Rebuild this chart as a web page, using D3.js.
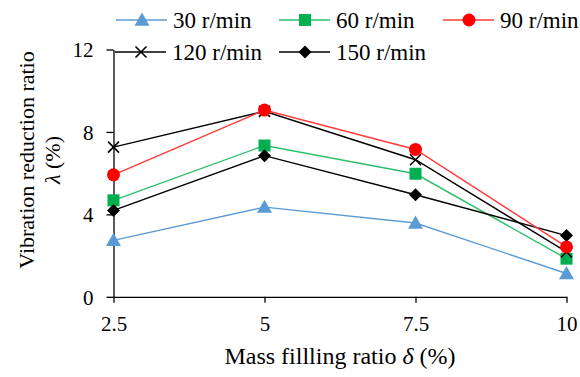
<!DOCTYPE html>
<html>
<head>
<meta charset="utf-8">
<script src="https://cdn.jsdelivr.net/npm/d3@7/dist/d3.min.js"></script>
<style>
  html, body { margin: 0; padding: 0; background: #fff; }
  svg { display: block; }
  svg text, svg tspan { font-family: 'Liberation Serif', 'Times New Roman', serif !important; fill: #000; }
</style>
</head>
<body>
<svg id="chart" width="580" height="377"></svg>
<script>
const xValues = [2.5, 5, 7.5, 10];
const xTickLabels = ["2.5", "5", "7.5", "10"];
const yTicks = [0, 4, 8, 12];
const seriesNames = ["30 r/min", "60 r/min", "90 r/min", "120 r/min", "150 r/min"];
const s30 = [2.74, 4.35, 3.58, 1.13];
const s60 = [4.68, 7.34, 5.97, 1.85];
const s90 = [5.92, 9.06, 7.15, 2.42];
const s120 = [7.26, 9.0, 6.65, 2.18];
const s150 = [4.19, 6.85, 4.95, 2.97];

const seriesValues = [s30, s60, s90, s120, s150];
const styles = [
  { line: "#5B9BD5", fill: "#5B9BD5", marker: "triangle" },
  { line: "#2DBE6C", fill: "#00B050", marker: "square" },
  { line: "#FF3B3B", fill: "#FF0000", marker: "circle" },
  { line: "#000000", fill: "#000000", marker: "cross" },
  { line: "#000000", fill: "#000000", marker: "diamond" }
];
const FONT = "'Liberation Serif', 'Times New Roman', serif";

const svg = d3.select("#chart");
const x = d3.scaleLinear().domain([2.5, 10]).range([113.5, 566.5]);
const y = d3.scaleLinear().domain([0, 12]).range([296.8, 49.5]);

const xAxis = d3.axisBottom(x).tickValues(xValues).tickFormat((d, i) => xTickLabels[i]).tickSize(6).tickSizeOuter(0).tickPadding(8);
const yAxis = d3.axisLeft(y).tickValues(yTicks).tickSize(7).tickSizeOuter(0).tickPadding(13);

const gx = svg.append("g").attr("transform", `translate(0,${y(0)})`).call(xAxis);
const gy = svg.append("g").attr("transform", `translate(${x(2.5)},0)`).call(yAxis);
[gx, gy].forEach(g => {
  g.attr("font-family", FONT).attr("font-size", 21);
  g.select(".domain").attr("stroke", "#000").attr("stroke-width", 1.3);
  g.selectAll(".tick line").attr("stroke", "#000").attr("stroke-width", 1.3);
  g.selectAll(".tick text").attr("font-family", FONT).attr("font-size", 21).attr("fill", "#000");
});
gx.selectAll(".tick text").attr("dy", "0.95em");
gy.selectAll(".tick text").attr("dy", "0.35em");

function drawMarker(g, type, cx, cy, st) {
  if (type === "triangle") {
    const s = 7.5;
    g.append("path").attr("d", `M${cx},${cy - s} L${cx + s},${cy + s * 0.75} L${cx - s},${cy + s * 0.75} Z`).attr("fill", st.fill);
  } else if (type === "square") {
    g.append("rect").attr("x", cx - 6).attr("y", cy - 6).attr("width", 12).attr("height", 12).attr("fill", st.fill);
  } else if (type === "circle") {
    g.append("circle").attr("cx", cx).attr("cy", cy).attr("r", 6.5).attr("fill", st.fill);
  } else if (type === "cross") {
    const s = 5.5;
    g.append("path").attr("d", `M${cx - s},${cy - s} L${cx + s},${cy + s} M${cx - s},${cy + s} L${cx + s},${cy - s}`).attr("stroke", st.fill).attr("stroke-width", 1.6).attr("fill", "none");
  } else if (type === "diamond") {
    const s = 6.5;
    g.append("path").attr("d", `M${cx},${cy - s} L${cx + s},${cy} L${cx},${cy + s} L${cx - s},${cy} Z`).attr("fill", st.fill);
  }
}

const line = d3.line().x((d, i) => x(xValues[i])).y(d => y(d));
const order = [0, 1, 4, 3, 2];
order.forEach(k => {
  svg.append("path").datum(seriesValues[k]).attr("d", line).attr("fill", "none").attr("stroke", styles[k].line).attr("stroke-width", 1.4);
});
order.forEach(k => {
  const g = svg.append("g");
  seriesValues[k].forEach((v, i) => drawMarker(g, styles[k].marker, x(xValues[i]), y(v), styles[k]));
});

const legendPos = [
  { x: 116, y: 20 }, { x: 279, y: 20 }, { x: 443, y: 20 },
  { x: 115, y: 52 }, { x: 279, y: 52 }
];
seriesNames.forEach((name, k) => {
  const p = legendPos[k];
  const g = svg.append("g");
  g.append("line").attr("x1", p.x).attr("x2", p.x + 51).attr("y1", p.y).attr("y2", p.y).attr("stroke", styles[k].line).attr("stroke-width", 1.4);
  drawMarker(g, styles[k].marker, p.x + 26, p.y, styles[k]);
  g.append("text").attr("x", p.x + 57).attr("y", p.y).attr("dy", "0.33em").attr("font-family", FONT).attr("font-size", 23).text(name);
});

const xt = svg.append("text").attr("x", 340).attr("y", 364).attr("text-anchor", "middle").attr("font-family", FONT).attr("font-size", 24);
xt.append("tspan").text("Mass fillling ratio ");
xt.append("tspan").attr("font-style", "italic").text("δ");
xt.append("tspan").text(" (%)");

const yt = svg.append("text").attr("transform", "translate(26,160) rotate(-90)").attr("text-anchor", "middle").attr("font-family", FONT).attr("font-size", 22);
yt.append("tspan").attr("dy", "0.35em").text("Vibration reduction ratio");
const t2 = svg.append("text").attr("transform", "translate(52,160) rotate(-90)").attr("text-anchor", "middle").attr("font-family", FONT).attr("font-size", 22);
t2.append("tspan").attr("dy", "0.35em").attr("font-style", "italic").text("λ");
t2.append("tspan").text(" (%)");
</script>
</body>
</html>
